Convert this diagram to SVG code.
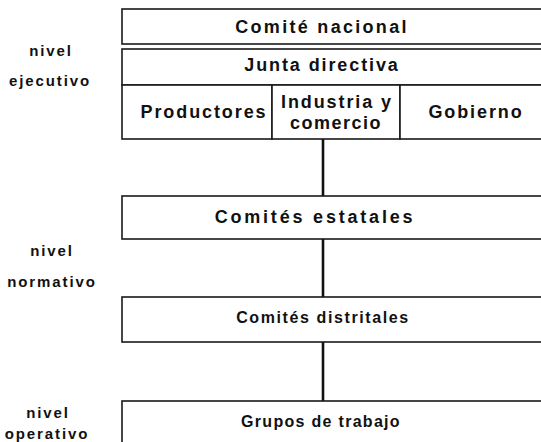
<svg xmlns="http://www.w3.org/2000/svg" width="541" height="442" viewBox="0 0 541 442">
<style>
.box{fill:#fff;stroke:#1a1a1a;stroke-width:1.6}
.t{font-family:"Liberation Sans",Arial,sans-serif;font-weight:bold;fill:#111;text-anchor:middle}
.n{font-size:18px;letter-spacing:1.9px}
.s{font-size:16px;letter-spacing:1.6px}
.l{font-size:15px;letter-spacing:1.9px}
.c{stroke:#111;stroke-width:2.6;fill:none}
</style>
<rect width="541" height="442" fill="#fff"/>
<g id="labels">
<text class="t l" x="51" y="56">nivel</text>
<text class="t l" x="50" y="86">ejecutivo</text>
<text class="t l" x="52" y="256">nivel</text>
<text class="t l" x="52" y="287">normativo</text>
<text class="t l" x="48" y="418">nivel</text>
<text class="t l" x="47" y="439">operativo</text>
</g>
<g id="connectors">
<line class="c" x1="323" y1="139" x2="323" y2="196"/>
<line class="c" x1="323" y1="239" x2="323" y2="297"/>
<line class="c" x1="323" y1="342" x2="323" y2="401"/>
</g>
<g id="comite-nacional">
<rect class="box" x="122" y="9" width="425" height="35"/>
<text class="t n" x="322" y="33" style="letter-spacing:2.3px">Comité nacional</text>
</g>
<g id="junta-directiva">
<rect class="box" x="122" y="49" width="425" height="36"/>
<text class="t n" x="322" y="71">Junta directiva</text>
</g>
<g id="productores">
<rect class="box" x="122" y="85" width="150" height="54"/>
<text class="t n" x="204" y="118">Productores</text>
</g>
<g id="industria">
<rect class="box" x="272" y="85" width="128" height="54"/>
<text class="t n" x="337" y="108">Industria y</text>
<text class="t n" x="336" y="129" style="letter-spacing:1.5px">comercio</text>
</g>
<g id="gobierno">
<rect class="box" x="400" y="85" width="147" height="54"/>
<text class="t n" x="476" y="118">Gobierno</text>
</g>
<g id="comites-estatales">
<rect class="box" x="122" y="196" width="425" height="43"/>
<text class="t n" x="315" y="223" style="letter-spacing:2.8px">Comités estatales</text>
</g>
<g id="comites-distritales">
<rect class="box" x="122" y="297" width="425" height="45"/>
<text class="t s" x="323" y="323">Comités distritales</text>
</g>
<g id="grupos-de-trabajo">
<rect class="box" x="122" y="401" width="425" height="50"/>
<text class="t s" x="321" y="427" style="letter-spacing:1.3px">Grupos de trabajo</text>
</g>
</svg>
